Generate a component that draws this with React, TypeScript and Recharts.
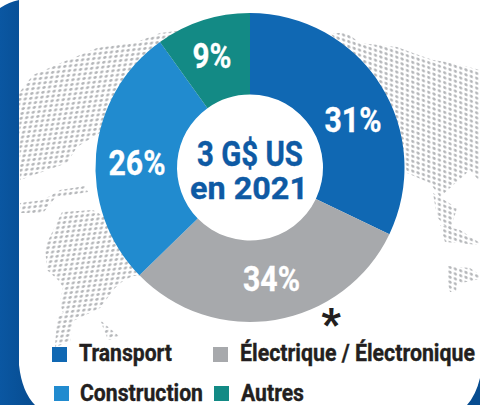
import React from "react";
import { PieChart, Pie, Cell } from "recharts";

const categories = ["Transport", "Électrique / Électronique", "Construction", "Autres"];
// Printed percentages, and the sizes of the arcs as actually drawn in the picture (they differ).
const printedShares = [31, 34, 26, 9];
const drawnArcs = [32.1, 30.6, 27.4, 9.9];
const colors = ["#1068b3", "#a7a9ac", "#218bcf", "#138a85"];
const rows = categories.map((name, i) => ({ name, value: drawnArcs[i] }));

const labelSpots = [
  { x: 353, y: 132, w: 57 },
  { x: 271.5, y: 291, w: 57 },
  { x: 137, y: 175, w: 57 },
  { x: 212, y: 68, w: 39 },
];

// Text squeezed horizontally to mimic the condensed face of the original.
const Squeezed = ({ x, y, sx, w, size, fill, anchor, children }: any) => (
  <text transform={`translate(${x},${y}) scale(${sx},1)`} textAnchor={anchor} fill={fill} stroke={fill} strokeWidth={0.35}
    textLength={w / sx} lengthAdjust="spacingAndGlyphs"
    style={{ fontFamily: "Roboto", fontWeight: 700, fontSize: size }}>
    {children}
  </text>
);

const pctLabel = ({ index }: any) => {
  const s = labelSpots[index];
  return (
    <Squeezed x={s.x} y={s.y} sx={0.84} w={s.w} size={36} fill="#fff" anchor="middle">
      {printedShares[index]}%
    </Squeezed>
  );
};

const legend = [
  { i: 0, x: 52, y: 347, tx: 79, ty: 361, w: 93, sx: 0.91 },
  { i: 1, x: 213, y: 347, tx: 240, ty: 361, w: 235, sx: 0.92 },
  { i: 2, x: 54, y: 386, tx: 80, ty: 401, w: 123, sx: 0.9 },
  { i: 3, x: 214, y: 386, tx: 241, ty: 401, w: 63, sx: 0.91 },
];

const landWest = [
  "M19,93 L33,75 L63,62 L97,48 L137,42 L160,33 L185,30 L140,90 L105,130 L93,137 L77,147 L67,163 L20,180 Z",
  "M20,203 L43,200 L60,190 L85,186 L88,192 L55,198 L43,213 L20,213 Z",
  "M62,212 L93,210 L110,220 L145,275 L133,276 L123,281 L115,288 L100,308 L73,321 L70,342 L55,347 L57,317 L63,313 L60,303 L63,287 L58,280 L47,270 L45,247 Z",
  "M100,320 L120,337 L108,340 Z",
];
const landEast = [
  "M330,33 L347,33 L360,43 L397,47 L413,53 L433,60 L453,63 L480,70 L480,182 L470,170 L440,197 L430,183 L407,173 L395,120 L360,70 Z",
  "M433,193 L457,208 L450,232 L437,217 Z",
  "M440,225 L460,230 L480,243 L480,245 L445,242 Z",
  "M448,266 L470,268 L480,275 L480,279 L457,284 L456,292 L450,292 L447,280 Z",
];

export default function App() {
  return (
    <div style={{ position: "absolute", left: 0, top: 0, width: 480, height: 405, overflow: "hidden", background: "#fff" }}>
      <svg width={480} height={405} style={{ position: "absolute", left: 0, top: 0 }}>
        <defs>
          <linearGradient id="band" x1="0" y1="0" x2="1" y2="0">
            <stop offset="0" stopColor="#0a57a2" />
            <stop offset="1" stopColor="#074c90" />
          </linearGradient>
          <pattern id="dotsW" width="5.6" height="4.7" patternUnits="userSpaceOnUse" patternTransform="rotate(-6) skewX(-18)">
            <ellipse cx="2.8" cy="2.3" rx="1.7" ry="1.4" fill="#b3b5b8" />
          </pattern>
          <pattern id="dotsE" width="5.6" height="4.7" patternUnits="userSpaceOnUse" patternTransform="rotate(18) skewX(18)">
            <ellipse cx="2.8" cy="2.3" rx="1.7" ry="1.4" fill="#b3b5b8" />
          </pattern>
        </defs>
        <path d="M0,405 L0,8 Q9,2 19,0 L19,365 Q22,392 35,405 Z" fill="url(#band)" />
        <path d="M480,378 Q476,395 467,405 L480,405 Z" fill="#074c90" />
        {landWest.map((d, k) => <path key={k} d={d} fill="url(#dotsW)" />)}
        {landEast.map((d, k) => <path key={k} d={d} fill="url(#dotsE)" />)}
      </svg>
      <div style={{ position: "absolute", left: 0, top: 0 }}>
        <PieChart width={480} height={405} margin={{ top: 0, right: 0, bottom: 0, left: 0 }}>
          <Pie data={rows} dataKey="value" cx={250} cy={167.5} innerRadius={73} outerRadius={154.5}
            startAngle={90} endAngle={-270} stroke="none" isAnimationActive={false}
            label={pctLabel} labelLine={false}>
            {rows.map((r, i) => <Cell key={r.name} fill={colors[i]} />)}
          </Pie>
        </PieChart>
      </div>
      <svg width={480} height={405} style={{ position: "absolute", left: 0, top: 0 }}>
        <Squeezed x={250} y={166} sx={0.84} w={106} size={35} fill="#0e5aa4" anchor="middle">3 G$ US</Squeezed>
        <Squeezed x={249} y={199} sx={1} w={118} size={32} fill="#0e5aa4" anchor="middle">en 2021</Squeezed>
        <text x={331} y={338} textAnchor="middle" fill="#231f20"
          style={{ fontFamily: "Roboto", fontWeight: 900, fontSize: 42 }}>*</text>
        {legend.map((l) => (
          <g key={l.i}>
            <rect x={l.x} y={l.y} width={15} height={15} fill={colors[l.i]} />
            <Squeezed x={l.tx} y={l.ty} sx={l.sx} w={l.w} size={23} fill="#231f20" anchor="start">{categories[l.i]}</Squeezed>
          </g>
        ))}
      </svg>
    </div>
  );
}
